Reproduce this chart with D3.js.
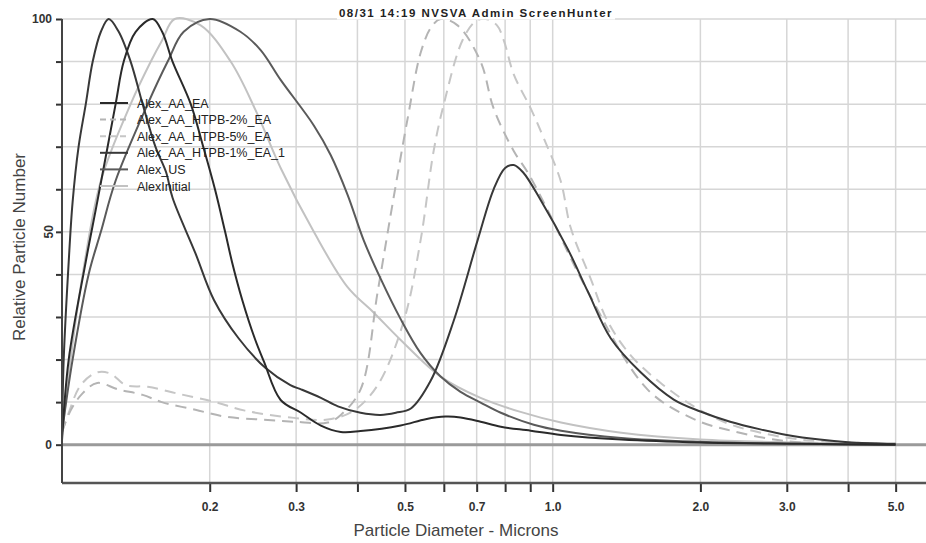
<!DOCTYPE html>
<html>
<head>
<meta charset="utf-8">
<script src="https://cdn.jsdelivr.net/npm/d3@7/dist/d3.min.js"></script>
<style>
  body { margin: 0; background: #fff; }
  text { font-family: "Liberation Sans", Arial, sans-serif; }
</style>
</head>
<body>
<div id="chart"></div>
<script>
// ==========================
// Data
// ==========================
// diameters in microns, values in relative particle number
const dEA = [0.1, 0.1032, 0.1118, 0.1182, 0.1286, 0.1336, 0.1413, 0.1531, 0.16, 0.168, 0.183, 0.194, 0.205, 0.215, 0.222, 0.233, 0.247, 0.258, 0.279, 0.307, 0.337, 0.37, 0.406, 0.49, 0.551, 0.605, 0.649, 0.713, 0.784, 0.902, 1.04, 1.38, 2.0, 3.2, 5.0];
const vEA = [1, 20, 43, 57.5, 80, 90, 97, 100, 97, 90, 80, 70, 60, 50, 43, 34, 25, 19.5, 10.5, 7.5, 4.5, 3, 3.2, 4.5, 6, 6.6, 6.4, 5.4, 4.2, 3.3, 2.3, 1.2, 0.5, 0.2, 0];

const dHTPB2 = [0.1, 0.1041, 0.11, 0.118, 0.13, 0.146, 0.1597, 0.187, 0.215, 0.254, 0.297, 0.348, 0.37, 0.406, 0.44, 0.474, 0.507, 0.538, 0.565, 0.591, 0.64, 0.713, 0.758, 0.833, 0.889, 0.968, 1.179, 1.56, 1.94, 2.27, 3.0, 4.0, 5.0];
const vHTPB2 = [3, 8, 12, 14.5, 13, 11.7, 10, 8.2, 6.6, 5.9, 5.4, 5.2, 7, 13, 36, 58, 77, 92, 98, 100, 98.5, 90, 79, 69, 64, 56, 36, 13, 6, 3.5, 0.8, 0.2, 0];

const dHTPB5 = [0.1, 0.1032, 0.1092, 0.118, 0.1256, 0.1349, 0.1495, 0.172, 0.205, 0.236, 0.297, 0.348, 0.393, 0.44, 0.497, 0.538, 0.572, 0.6, 0.655, 0.697, 0.73, 0.77, 0.795, 0.833, 0.902, 0.959, 1.038, 1.088, 1.195, 1.294, 1.442, 1.66, 1.939, 2.273, 2.654, 3.2, 4.05, 5.0];
const vHTPB5 = [3, 7.5, 14, 17, 16.7, 14, 13.6, 12, 10, 8, 6.3, 5.9, 8, 14, 29, 48, 69, 80, 95, 99.5, 100, 98.5, 95, 87, 79, 72, 62, 51, 39, 29, 21, 14.5, 9, 5, 2.8, 1.2, 0.5, 0.1];

const dHTPB1 = [0.1, 0.1008, 0.1032, 0.1051, 0.1081, 0.1118, 0.1155, 0.12, 0.1245, 0.1305, 0.138, 0.146, 0.155, 0.163, 0.168, 0.187, 0.204, 0.229, 0.26, 0.292, 0.307, 0.337, 0.365, 0.406, 0.446, 0.479, 0.514, 0.564, 0.628, 0.703, 0.758, 0.8, 0.833, 0.87, 0.945, 1.073, 1.179, 1.313, 1.511, 1.765, 2.0, 2.3, 2.65, 3.0, 3.5, 4.0, 5.0];
const vHTPB1 = [2, 20, 43, 57, 70, 80, 90, 97, 100, 97, 90, 80, 70, 64, 58, 45, 34, 25, 18, 14, 13, 11, 9, 7.5, 7, 7.5, 8.5, 15, 29, 48, 60, 65, 65.7, 64, 57.5, 46, 36, 25, 17, 10.6, 7.8, 5.4, 3.6, 2.3, 1.2, 0.6, 0.2];

const dUS = [0.1, 0.1051, 0.1133, 0.12, 0.1286, 0.1495, 0.1642, 0.177, 0.2, 0.231, 0.254, 0.279, 0.326, 0.353, 0.382, 0.412, 0.446, 0.49, 0.538, 0.591, 0.649, 0.713, 0.784, 0.915, 1.04, 1.38, 2.0, 3.2, 5.0];
const vUS = [3, 20, 40, 50, 62, 80, 90, 97, 100, 97, 92.7, 85.7, 75, 68, 58.7, 48, 39, 29.5, 21.5, 16, 12.4, 9.9, 7.5, 4.7, 3.3, 1.6, 0.7, 0.2, 0];

const dInitial = [0.1, 0.1041, 0.1102, 0.12, 0.138, 0.1517, 0.16, 0.1697, 0.1917, 0.2207, 0.248, 0.279, 0.326, 0.382, 0.432, 0.49, 0.591, 0.713, 0.86, 1.04, 1.38, 2.0, 3.2, 5.0];
const vInitial = [2, 20, 40, 62, 80, 90, 95, 100, 98.5, 90, 78.6, 65, 50, 37, 31, 24.6, 16, 11, 7.7, 5.2, 2.8, 1.2, 0.5, 0.1];

const seriesNames = ["Alex_AA_EA", "Alex_AA_HTPB-2%_EA", "Alex_AA_HTPB-5%_EA", "Alex_AA_HTPB-1%_EA_1", "Alex_US", "AlexInitial"];

const xTicks = [0.2, 0.3, 0.4, 0.5, 0.6, 0.7, 0.8, 0.9, 1, 2, 3, 4, 5];
const xLabels = [0.2, 0.3, 0.5, 0.7, 1, 2, 3, 5];
const yTicks = [0, 10, 20, 30, 40, 50, 60, 70, 80, 90, 100];

// ==========================
// Layout
// ==========================
const width = 926;
const height = 543;
const plotLeft = 62;
const plotTop = 19;
const plotBottom = 483;

const series = [
  { name: seriesNames[5], d: dInitial, v: vInitial, color: "#c2c2c2", dash: null },
  { name: seriesNames[2], d: dHTPB5, v: vHTPB5, color: "#c6c6c6", dash: "11,7" },
  { name: seriesNames[1], d: dHTPB2, v: vHTPB2, color: "#b4b4b4", dash: "11,7" },
  { name: seriesNames[4], d: dUS, v: vUS, color: "#5a5a5a", dash: null },
  { name: seriesNames[3], d: dHTPB1, v: vHTPB1, color: "#383838", dash: null },
  { name: seriesNames[0], d: dEA, v: vEA, color: "#2a2a2a", dash: null }
];

const x = d3.scaleLog().domain([0.1, 6]).range([plotLeft, 934.5]);
const y = d3.scaleLinear().domain([-9, 100]).range([plotBottom, plotTop]);

const svg = d3.select("#chart")
  .append("svg")
  .attr("width", width)
  .attr("height", height);

// ==========================
// Grid
// ==========================
svg.append("g")
  .selectAll("line")
  .data(yTicks.filter(t => t > 0))
  .enter()
  .append("line")
  .attr("x1", plotLeft).attr("x2", width)
  .attr("y1", d => y(d)).attr("y2", d => y(d))
  .attr("stroke", "#d6d6d6")
  .attr("stroke-width", 1.5);

svg.append("g")
  .selectAll("line")
  .data(xTicks)
  .enter()
  .append("line")
  .attr("x1", d => x(d)).attr("x2", d => x(d))
  .attr("y1", plotTop).attr("y2", plotBottom)
  .attr("stroke", "#d6d6d6")
  .attr("stroke-width", 1.5);

// zero line
svg.append("line")
  .attr("x1", plotLeft).attr("x2", width)
  .attr("y1", y(0)).attr("y2", y(0))
  .attr("stroke", "#9a9a9a")
  .attr("stroke-width", 3);

// ==========================
// Curves
// ==========================
const line = d3.line()
  .x(p => x(p[0]))
  .y(p => y(Math.max(0, p[1])))
  .curve(d3.curveCatmullRom.alpha(0.5));

series.forEach(s => {
  svg.append("path")
    .datum(s.d.map((d, i) => [d, s.v[i]]))
    .attr("d", line)
    .attr("fill", "none")
    .attr("stroke", s.color)
    .attr("stroke-width", 2)
    .attr("stroke-dasharray", s.dash);
});

// ==========================
// Axes
// ==========================
const xAxis = d3.axisBottom(x)
  .tickValues(xTicks)
  .tickSize(9)
  .tickPadding(10)
  .tickFormat(d => xLabels.includes(d) ? d3.format(".1f")(d) : "");

const gx = svg.append("g")
  .attr("transform", `translate(0,${plotBottom})`)
  .call(xAxis);
gx.select(".domain").remove();
gx.selectAll(".tick line").attr("stroke", "#333").attr("stroke-width", 2);
gx.selectAll(".tick text")
  .attr("font-family", "Liberation Sans, Arial, sans-serif")
  .attr("font-size", 12)
  .attr("font-weight", "bold")
  .attr("fill", "#333");

svg.append("line")
  .attr("x1", plotLeft).attr("x2", width)
  .attr("y1", plotBottom).attr("y2", plotBottom)
  .attr("stroke", "#555")
  .attr("stroke-width", 2.5);

const yAxis = d3.axisLeft(y)
  .tickValues(yTicks)
  .tickSize(6)
  .tickPadding(4)
  .tickFormat(d => (d === 0 || d === 100) ? d : "");

const gy = svg.append("g")
  .attr("transform", `translate(${plotLeft},0)`)
  .call(yAxis);
gy.select(".domain").remove();
gy.selectAll(".tick line").attr("stroke", "#333").attr("stroke-width", 2);
gy.selectAll(".tick text")
  .attr("font-family", "Liberation Sans, Arial, sans-serif")
  .attr("font-size", 12)
  .attr("font-weight", "bold")
  .attr("fill", "#333");

// "50" is drawn sideways in the original
svg.append("text")
  .attr("transform", `translate(${plotLeft - 9},${y(50)}) rotate(-90)`)
  .attr("text-anchor", "middle")
  .attr("font-size", 12)
  .attr("font-weight", "bold")
  .attr("fill", "#333")
  .text("50");

svg.append("line")
  .attr("x1", plotLeft).attr("x2", plotLeft)
  .attr("y1", plotTop).attr("y2", plotBottom)
  .attr("stroke", "#444")
  .attr("stroke-width", 2);

// axis titles
svg.append("text")
  .attr("transform", `translate(25,247) rotate(-90)`)
  .attr("text-anchor", "middle")
  .attr("font-size", 17)
  .attr("fill", "#444")
  .text("Relative Particle Number");

svg.append("text")
  .attr("x", 456)
  .attr("y", 536)
  .attr("text-anchor", "middle")
  .attr("font-size", 17)
  .attr("fill", "#444")
  .text("Particle Diameter - Microns");

// ==========================
// Title (screen grab caption)
// ==========================
const titleGroup = svg.append("g");
const titleBg = titleGroup.append("rect").attr("fill", "#fff");
const title = titleGroup.append("text")
  .attr("x", 476)
  .attr("y", 17)
  .attr("text-anchor", "middle")
  .attr("font-size", 11.5)
  .attr("font-weight", "bold")
  .attr("letter-spacing", 1.5)
  .attr("fill", "#222")
  .text("08/31 14:19 NVSVA Admin ScreenHunter");
const tb = title.node().getBBox();
titleBg
  .attr("x", tb.x - 2).attr("y", 4)
  .attr("width", tb.width + 4).attr("height", 15.5);

// ==========================
// Legend
// ==========================
const legendOrder = [5, 2, 1, 4, 3, 0];
const legend = svg.append("g")
  .attr("transform", "translate(100,103)");

const legendItems = legend.selectAll(".legend-item")
  .data(legendOrder.map(i => series[i]))
  .enter()
  .append("g")
  .attr("class", "legend-item")
  .attr("transform", (d, i) => `translate(0,${i * 16.6})`);

legendItems.append("line")
  .attr("x1", 0).attr("x2", 28)
  .attr("stroke", d => d.color)
  .attr("stroke-width", 2)
  .attr("stroke-dasharray", d => d.dash ? "6,4" : null);

legendItems.append("text")
  .attr("x", 37)
  .attr("y", 4.5)
  .attr("font-size", 12.5)
  .attr("fill", "#222")
  .text(d => d.name);
</script>
</body>
</html>
